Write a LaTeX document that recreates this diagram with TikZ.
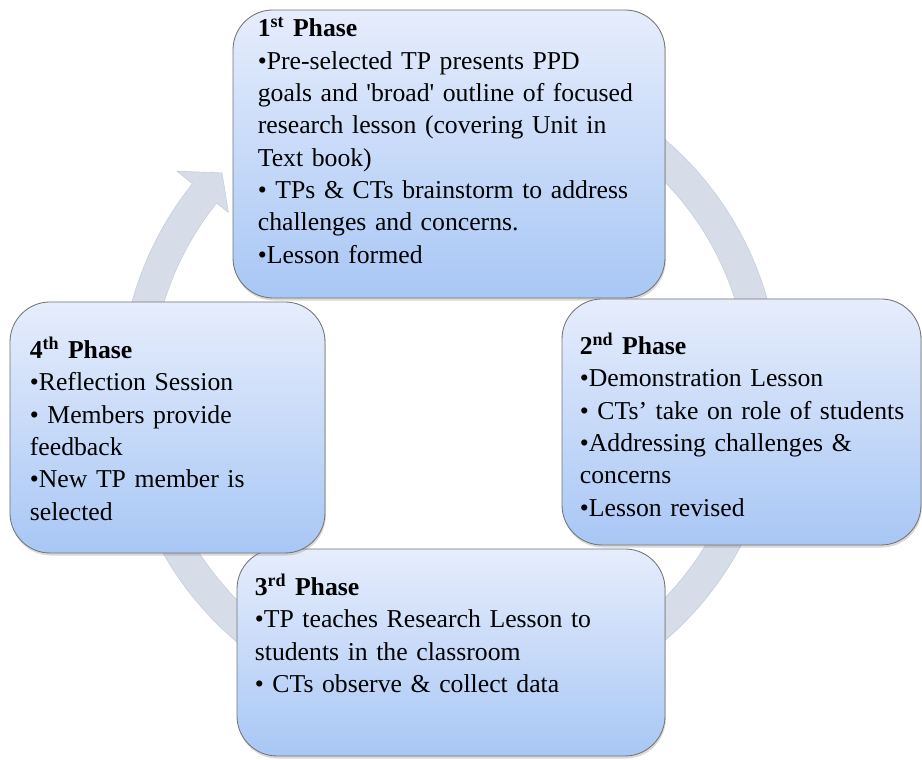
\documentclass[tikz,border=0pt]{standalone}
\usepackage{fontspec}
\setmainfont{Liberation Serif}
\usepackage{xcolor}
\usepackage{tikz}
\usetikzlibrary{positioning,calc,shadows}

\definecolor{phasetop}{RGB}{230,237,252}
\definecolor{phasebottom}{RGB}{168,199,245}
\definecolor{ringfill}{RGB}{214,221,233}
\definecolor{ringedge}{RGB}{196,205,221}

\begin{document}
\begin{tikzpicture}[
  phase/.style={
    rectangle, rounded corners=1cm, draw=black!55, line width=0.6pt,
    top color=phasetop, bottom color=phasebottom,
    drop shadow={shadow xshift=0.6pt, shadow yshift=-1.8pt, opacity=0.3},
    inner sep=0pt
  },
  phasetext/.style={
    anchor=base west, inner sep=0pt, text width=11cm, align=left,
    font=\fontsize{18.3}{23}\selectfont
  },
  ring/.style={fill=ringfill, draw=ringedge, line width=0.4pt}
]
\useasboundingbox (0,0) rectangle (23.05,19);

% Cycle arrow behind the phases
\begin{scope}[shift={(11.25,9.25)}]
  \filldraw[ring] (110:8.25) arc[start angle=110, end angle=-218.7, radius=8.25]
    -- (141.3:8.75) -- (136.4:7.87) -- (141.3:7.1) -- (141.3:7.475)
    arc[start angle=-218.7, end angle=110, radius=7.475] -- cycle;
\end{scope}

% Phase boxes
\node[phase, minimum width=10.8cm, minimum height=7.2cm] (p1) at (11.225,15.15) {};
\node[phase, minimum width=8.975cm, minimum height=6.15cm] (p2) at (18.5375,8.45) {};
\node[phase, minimum width=10.7cm, minimum height=5.175cm] (p3) at (11.275,2.6875) {};
\node[phase, minimum width=7.875cm, minimum height=6.275cm] (p4) at (4.1875,8.3125) {};

% Phase texts
\node[phasetext] (p1text) at ($(p1.north west)+(0.625,-0.68)$)
  {\textbf{1\textsuperscript{st} Phase}\\
   \textbullet Pre-selected TP presents PPD\\
   goals and \textquotesingle broad\textquotesingle{} outline of focused\\
   research lesson (covering Unit in\\
   Text book)\\
   \textbullet{} TPs \& CTs brainstorm to address\\
   challenges and concerns.\\
   \textbullet Lesson formed};
\node[phasetext] (p2text) at ($(p2.north west)+(0.45,-1.4)$)
  {\textbf{2\textsuperscript{nd} Phase}\\
   \textbullet Demonstration Lesson\\
   \textbullet{} CTs’ take on role of students\\
   \textbullet Addressing challenges \&\\
   concerns\\
   \textbullet Lesson revised};
\node[phasetext] (p3text) at ($(p3.north west)+(0.45,-1.17)$)
  {\textbf{3\textsuperscript{rd} Phase}\\
   \textbullet TP teaches Research Lesson to\\
   students in the classroom\\
   \textbullet{} CTs observe \& collect data};
\node[phasetext] (p4text) at ($(p4.north west)+(0.5,-1.42)$)
  {\textbf{4\textsuperscript{th} Phase}\\
   \textbullet Reflection Session\\
   \textbullet{} Members provide\\
   feedback\\
   \textbullet New TP member is\\
   selected};

\end{tikzpicture}
\end{document}
